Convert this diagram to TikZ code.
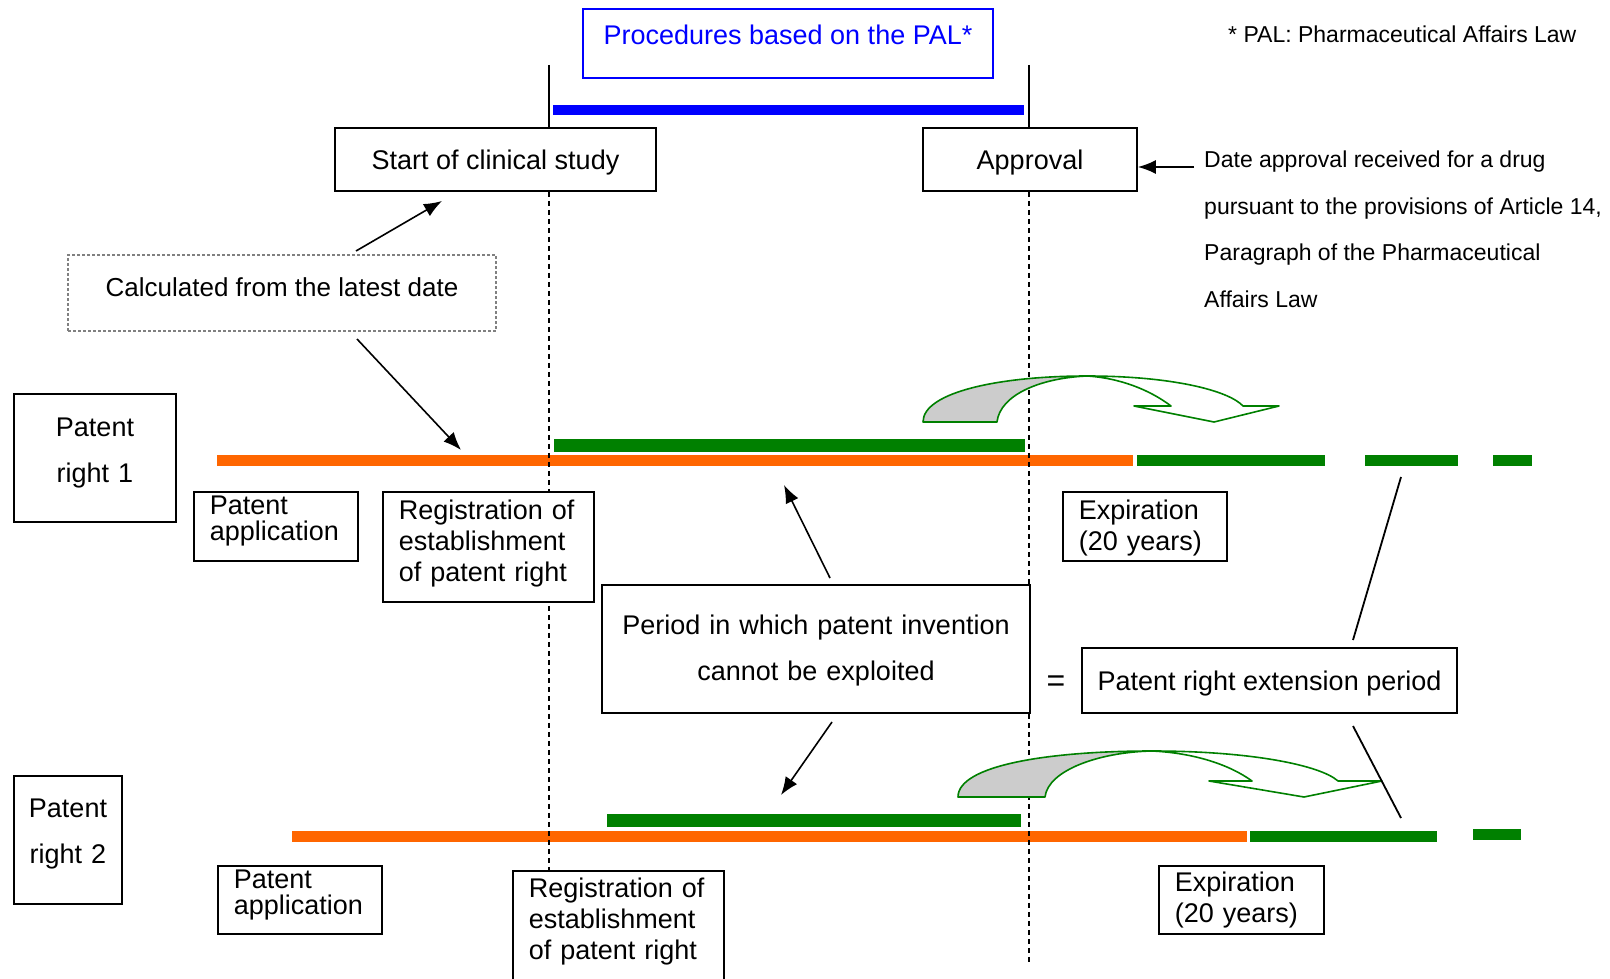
\documentclass[tikz,border=0pt]{standalone}
\usepackage{fontspec}
\setmainfont{Liberation Sans}
\usetikzlibrary{arrows.meta}
\definecolor{patorange}{HTML}{FF6600}
\definecolor{patgreen}{HTML}{008000}
\tikzset{
  txt/.style={font=\fontsize{27}{31}\selectfont},
  note/.style={font=\fontsize{23}{46.5}\selectfont, inner sep=0pt},
  box/.style={draw, line width=1.8pt, fill=white, txt, inner sep=0pt, align=center},
  lbox/.style={box, align=left, anchor=north west, inner xsep=16pt},
  bar/.style={line width=#1, line cap=butt},
  guide/.style={line width=1.8pt, dash pattern=on 5pt off 4pt},
  arr/.style={-{Latex[length=18pt,width=14pt]}, line width=1.6pt},
  curvarrow/.style={draw=patgreen, line width=1.6pt, line join=round},
}
\begin{document}
\begin{tikzpicture}[x=1pt,y=-1pt]
\useasboundingbox (0,0) rectangle (1610,979);
\node[box, draw=blue, text=blue, minimum width=410pt, minimum height=69pt, text depth=17pt] (pal) at (788,43.5) {Procedures based on the PAL*};
\node[note, anchor=west] (foot) at (1228,34) {* PAL: Pharmaceutical Affairs Law};
\node[box, minimum width=321pt, minimum height=63pt, text depth=0pt] (start) at (495.5,159.5) {Start of clinical study};
\node[box, minimum width=214pt, minimum height=63pt, text depth=0pt] (appr) at (1030,159.5) {Approval};
\node[note, anchor=north west, align=left] (desc) at (1204,151) {Date approval received for a drug\\pursuant to the provisions of Article 14,\\Paragraph of the Pharmaceutical\\Affairs Law};
\coordinate (dd) at (1194,167);
\draw[arr] (dd) -- (dd -| appr.east);
\coordinate (t1) at (549,65);
\coordinate (t2) at (1029,65);
\draw[line width=1.8pt] (t1) -- (t1 |- start.north);
\draw[line width=1.8pt] (t2) -- (t2 |- appr.north);
\draw[bar=10pt, blue] (553,110) -- (1024,110);
\node[box, draw=gray, densely dashed, line width=1.2pt, minimum width=428pt, minimum height=76pt, text depth=12pt, font=\fontsize{26}{30}\selectfont] (calc) at (282,293) {Calculated from the latest date};
\coordinate (ca) at (356,251);
\coordinate (cb) at (357,339);
\draw[arr] (ca) -- (442,201);
\draw[arr] (cb) -- (461,450);
% patent right 1
\draw[bar=11pt, patorange] (217,460.5) -- (1133,460.5);
\draw[bar=13pt, patgreen] (554,445) -- (1025,445);
\draw[bar=11pt, patgreen] (1137,460.5) -- (1325,460.5) (1365,460.5) -- (1458,460.5) (1493,460.5) -- (1532,460.5);
% patent right 2
\draw[bar=11pt, patorange] (292,836) -- (1247,836);
\draw[bar=13pt, patgreen] (607,820) -- (1021,820);
\draw[bar=11pt, patgreen] (1250,836) -- (1437,836) (1473,834) -- (1521,834);
\draw[guide] (t1 |- start.south) -- (549,979);
\draw[guide] (t2 |- appr.south) -- (1029,962);
\path[curvarrow, fill=gray!40] (923,422) .. controls (923,392) and (1000,376) .. (1087,376) .. controls (1040,378) and (1000,395) .. (997,422) -- cycle;
\path[curvarrow] (1087,376) .. controls (1170,376) and (1228,390) .. (1243,406) -- (1279,406) -- (1214,422) -- (1134,406) -- (1171,406) .. controls (1150,390) and (1120,378) .. (1087,376);
\path[curvarrow, fill=gray!40] (958,797) .. controls (958,765) and (1050,751) .. (1152,751) .. controls (1100,752) and (1048,770) .. (1045,797) -- cycle;
\path[curvarrow] (1152,751) .. controls (1250,751) and (1320,765) .. (1338,781) -- (1382,781) -- (1304,797) -- (1209,781) -- (1252,781) .. controls (1230,765) and (1195,753) .. (1152,751);
\node[box, text width=162pt, minimum height=128pt, text depth=62pt, font=\fontsize{27}{46}\selectfont] (pr1) at (95,458) {Patent\\right 1};
\node[lbox, text width=132pt, minimum height=69pt, text depth=42pt, font=\fontsize{27}{26}\selectfont] (pa1) at (193,491) {Patent\\application};
\node[lbox, text width=179pt, minimum height=110pt, text depth=75pt] (reg1) at (382,491) {Registration of\\establishment\\of patent right};
\node[lbox, text width=132pt, minimum height=69pt, text depth=32.6pt] (exp1) at (1062,491) {Expiration\\(20 years)};
\node[box, text width=108pt, minimum height=128pt, text depth=63pt, font=\fontsize{27}{46}\selectfont] (pr2) at (68,840) {Patent\\right 2};
\node[lbox, text width=132pt, minimum height=68pt, text depth=42pt, font=\fontsize{27}{26}\selectfont] (pa2) at (217,865) {Patent\\application};
\node[lbox, text width=179pt, minimum height=110pt, text depth=76pt] (reg2) at (512,870) {Registration of\\establishment\\of patent right};
\node[lbox, text width=133pt, minimum height=68pt] (exp2) at (1158,865) {Expiration\\(20 years)};
% period and extension
\node[box, text width=428pt, minimum height=128pt, text depth=47.6pt, font=\fontsize{27}{46}\selectfont] (per) at (816,649) {Period in which patent invention\\cannot be exploited};
\node[font=\fontsize{32}{36}\selectfont] (eq) at (1056,684) {=};
\node[box, minimum width=375pt, minimum height=65pt, text depth=0pt] (ext) at (1269.5,680.5) {Patent right extension period};
\coordinate (pa) at (830,578);
\coordinate (pb) at (832,722);
\draw[arr] (pa) -- (784,485);
\draw[arr] (pb) -- (781,795);
\coordinate (ea) at (1353,640);
\coordinate (eb) at (1353,726);
\draw[line width=1.8pt] (ea) -- (1401,477);
\draw[line width=1.8pt] (eb) -- (1401,818);
\end{tikzpicture}
\end{document}
